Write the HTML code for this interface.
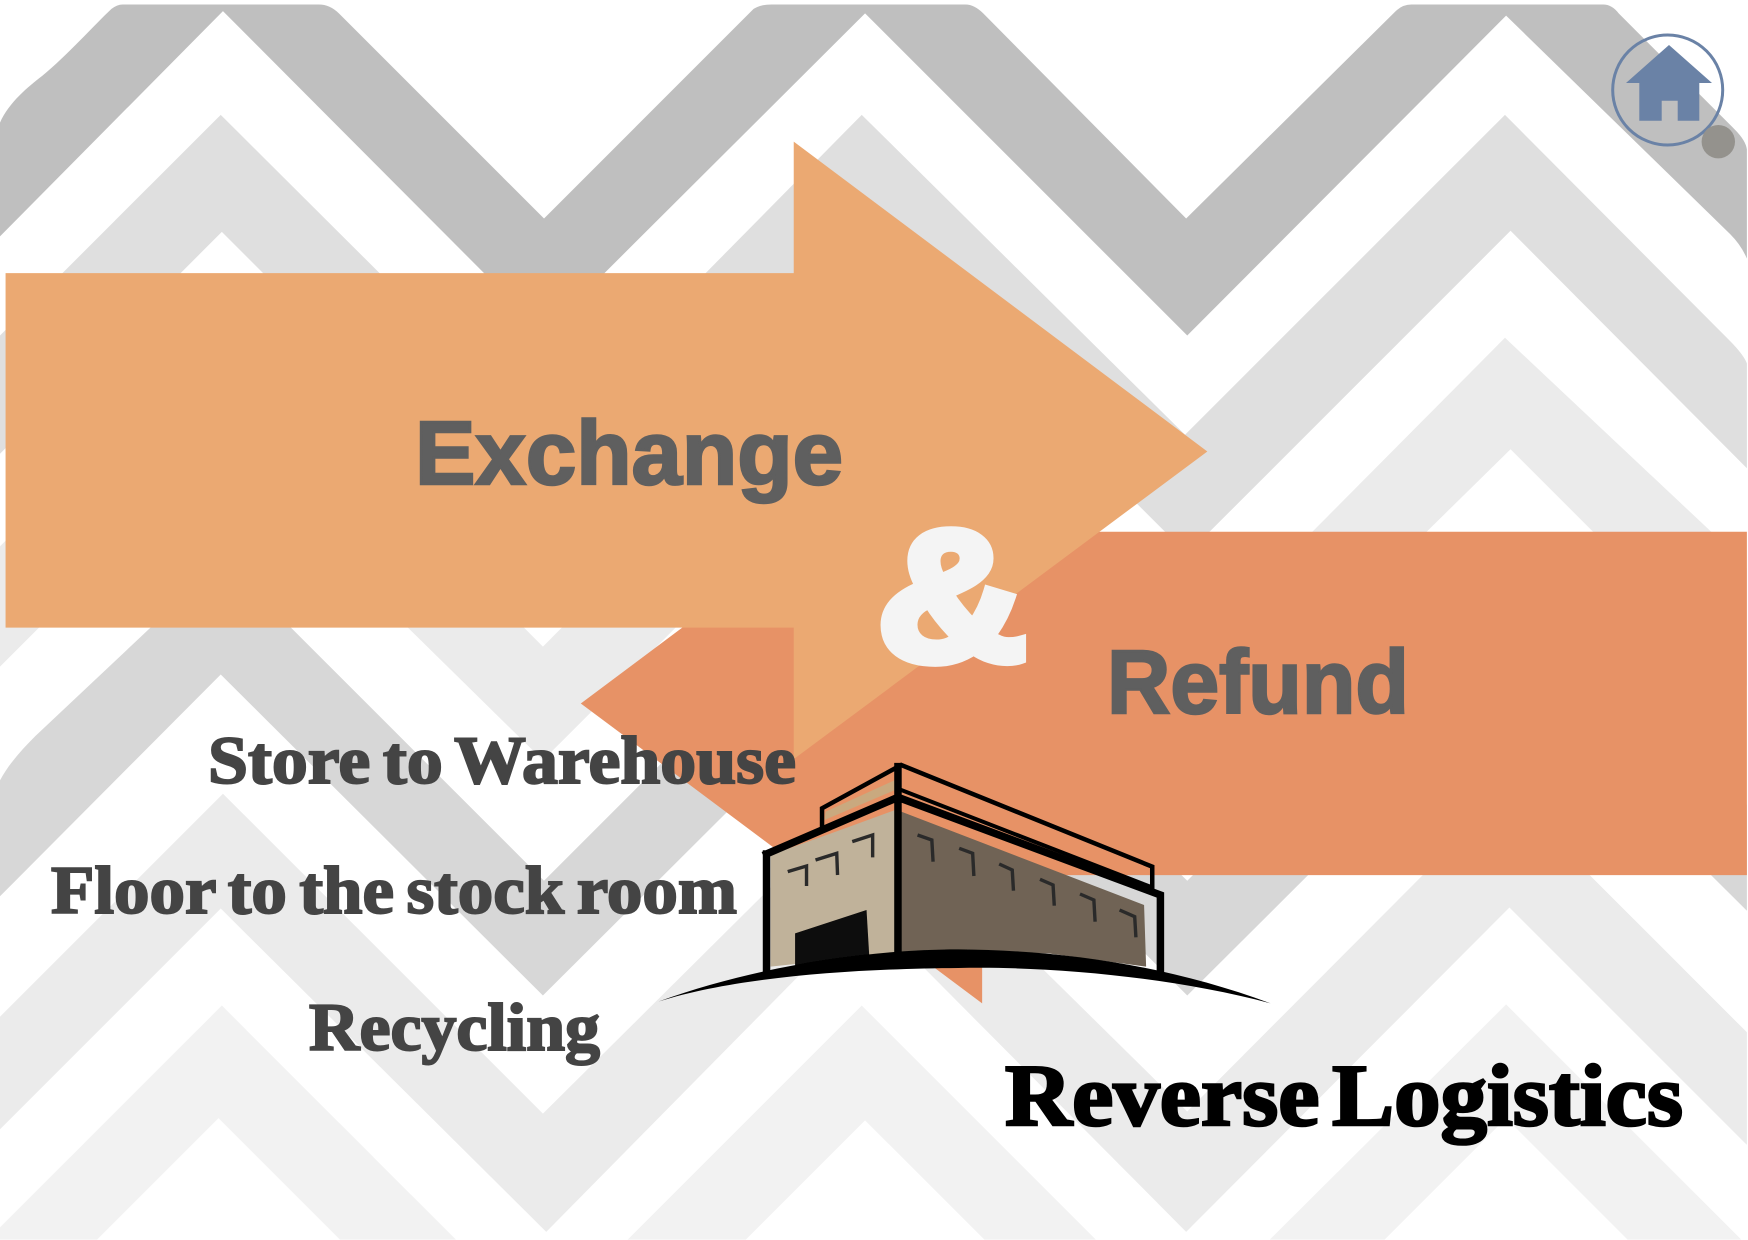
<!DOCTYPE html>
<html><head><meta charset="utf-8"><title>Reverse Logistics</title>
<style>
html,body{margin:0;padding:0;background:#fff;width:1748px;height:1240px;overflow:hidden}
svg{display:block}
.sp{font-family:"Liberation Sans",sans-serif;font-weight:700;fill:#5f5f5f;stroke:#5f5f5f;stroke-width:2.5px}
.se{font-family:"Liberation Serif",serif;font-weight:700;fill:#444;stroke:#444;stroke-width:2px;word-spacing:-5px}
</style></head><body>
<svg width="1748" height="1240" viewBox="0 0 1748 1240" xmlns="http://www.w3.org/2000/svg">
<defs><filter id="b" x="-5%" y="-5%" width="110%" height="110%"><feGaussianBlur stdDeviation="0.8"/></filter></defs>
<rect width="1748" height="1240" fill="#fff"/>
<g transform="scale(1.11480)">
<path fill="#f2f2f2" d="M0 1101L199 902L409 1112L305 1112L196 1003L87 1112L0 1112ZM563 1112L773 902L983 1112L883 1112L776 1005L669 1112ZM1139 1112L1351 901L1562 1112L1460 1112L1351 1003L1242 1112Z"/>
<path fill="#ebebeb" d="M0 912L200 712L487 999L776 712L1065 997L1351 710L1567 926L1567 1027L1354 814L1064 1105L776 815L490 1105L198 815L0 1013Z"/>
<path fill="#d7d7d7" d="M0 700C8 685 20 672 32 660L135 563L198 500L488 790L773 505L1065 790L1350 505L1567 722L1567 817L1354 605L1065 893L776 605L487 893L198 605L0 804Z"/>
<path fill="#ebebeb" d="M0 490L199 292L487 580L773 294L1065 590L1350 303L1535 477L1567 510L1567 615L1355 403L1065 688L773 396L487 682L199 399L0 598Z"/>
<path fill="#dfdfdf" d="M0 301L198 103L488 392L773 103L1063 390L1350 103L1551 305Q1564 318 1567 326L1567 420L1355 207L1065 497L776 208L488 497L199 208L0 407Z"/>
<path fill="#bfbfbf" d="M0 110C8 92 25 78 38 68C60 50 85 22 100 8Q105 4 110 4L286 4Q296 4 304 12L488 196L676 8Q682 4 692 4L866 4Q874 4 882 12L1064 196L1252 10Q1258 4 1266 4L1438 4Q1446 4 1452 12L1556 116Q1566 126 1567 134L1567 232Q1562 220 1552 210L1351 14L1065 301L776 12L488 299L200 10L0 212Z"/>
<polygon fill="#e79266" points="1567,477 881,477 881,362 521,631 881,900 881,785 1567,785"/>
<polygon fill="#eba972" points="5,245 712,245 712,127 1083,405 712,681 712,563 5,563"/>
</g>

<text class="sp" x="415" y="484" font-size="90" textLength="428" lengthAdjust="spacingAndGlyphs">Exchange</text>
<text class="sp" x="1107" y="713" font-size="90" textLength="302" lengthAdjust="spacingAndGlyphs">Refund</text>
<text x="877" y="660" font-family="Liberation Sans, sans-serif" font-weight="700" font-size="186" fill="#f4f4f4" stroke="#f4f4f4" stroke-width="10" textLength="150" lengthAdjust="spacingAndGlyphs">&amp;</text>

<text class="se" x="208" y="783" font-size="68" textLength="588" lengthAdjust="spacingAndGlyphs">Store to Warehouse</text>
<text class="se" x="51" y="913" font-size="68" textLength="686" lengthAdjust="spacingAndGlyphs">Floor to the stock room</text>
<text class="se" x="309" y="1050" font-size="68" textLength="291" lengthAdjust="spacingAndGlyphs">Recycling</text>
<text class="se" style="fill:#000;stroke:#000;stroke-width:2.6px;word-spacing:-10px" x="1005" y="1125" font-size="88" textLength="678" lengthAdjust="spacingAndGlyphs">Reverse Logistics</text>

<g transform="translate(640,740) scale(0.40816,0.33333)" filter="url(#b)">
<polygon fill="#c0b29a" points="320,345 480,275 625,210 625,640 320,680"/>
<polygon fill="#c9a97f" points="452,240 625,150 625,120 455,215"/>
<polygon fill="#070707" points="380,580 555,510 562,655 380,695"/>
<polygon fill="#6f6354" points="640,215 1235,495 1240,680 1000,640 640,635"/>
<g fill="none" stroke="#050505" stroke-linejoin="miter" stroke-linecap="square">
<path vector-effect="non-scaling-stroke" stroke-width="7.5" d="M310 342L632 172L1275 465L1275 685M310 342L310 690M632 80L632 640"/>
<path vector-effect="non-scaling-stroke" stroke-width="4.5" d="M446 255L446 205L640 75L1255 380L1255 450"/>
<path vector-effect="non-scaling-stroke" stroke-width="4" d="M640 150L1250 440"/>
</g>
<path fill="#050505" d="M45 785C280 680 560 628 780 628C1050 631 1300 680 1545 790C1300 710 1000 678 780 684C560 686 250 705 45 785Z"/>
<g fill="none" stroke="#2a2a2a">
<path vector-effect="non-scaling-stroke" stroke-width="3.4" d="M362 395L408 378L408 438M430 360L482 340L484 405M520 305L570 285L570 352M680 285L715 300L718 365M782 325L815 340L818 408M880 372L912 390L915 452M980 418L1012 435L1015 497M1078 462L1112 480L1115 545M1175 510L1212 530L1215 592"/>
</g>
</g>

<circle cx="1667.7" cy="90" r="55" fill="none" stroke="#6a82a6" stroke-width="3"/>
<path fill="#6a82a6" d="M1669 45L1712 83L1699.3 83L1699.3 120.7L1677.7 120.7L1677.7 100.7L1661.7 100.7L1661.7 120.7L1639.3 120.7L1639.3 83L1626 83Z"/>
<circle cx="1718.3" cy="141.7" r="16.7" fill="#94928d"/>
</svg>
</body></html>
